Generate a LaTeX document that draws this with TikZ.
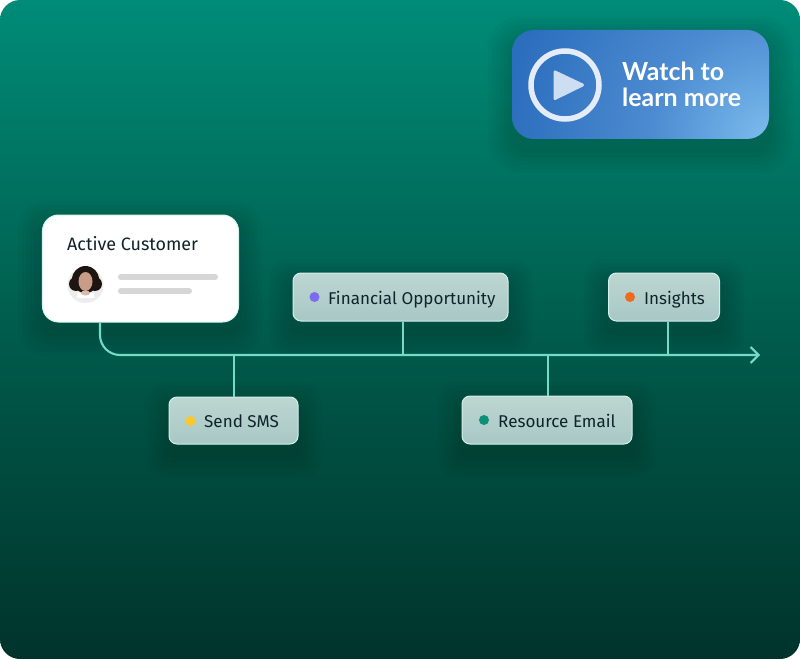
\documentclass[tikz,border=0pt]{standalone}
\usepackage{fontspec}
\setmainfont{Fira Sans}
\newfontfamily\watchfont{Lato}
\usetikzlibrary{arrows.meta}
\definecolor{bgtop}{HTML}{008C78}
\definecolor{bgmid}{HTML}{005C4C}
\definecolor{bgbot}{HTML}{00332B}
\definecolor{flow}{HTML}{74DCC6}
\definecolor{tagtop}{HTML}{BDD6D2}
\definecolor{tagbot}{HTML}{A8C8C5}
\definecolor{tagline}{HTML}{D5EFE9}
\definecolor{ink}{HTML}{10232A}
\definecolor{btnA}{HTML}{7CBCEE}
\definecolor{btnB}{HTML}{4C8BD0}
\definecolor{btnC}{HTML}{2C6EBE}
\definecolor{dotviolet}{HTML}{7C6BF0}
\definecolor{dotorange}{HTML}{EE6A1C}
\definecolor{dotyellow}{HTML}{F8C92A}
\definecolor{dotgreen}{HTML}{0E8F78}
\definecolor{hair}{HTML}{1E1512}
\definecolor{skin}{HTML}{C99C88}
\definecolor{halo}{HTML}{EDEDEE}
\definecolor{playfill}{HTML}{CDDDF2}
\definecolor{ringcol}{HTML}{E3ECF8}
\pgfdeclareverticalshading{bgshade}{100bp}{color(0bp)=(bgbot); color(25bp)=(bgbot); color(50bp)=(bgmid); color(75bp)=(bgtop); color(100bp)=(bgtop)}
\pgfdeclareverticalshading{tagshade}{100bp}{color(0bp)=(tagbot); color(25bp)=(tagbot); color(75bp)=(tagtop); color(100bp)=(tagtop)}
\pgfdeclareradialshading{btnshade}{\pgfpointorigin}{color(0bp)=(btnA); color(9bp)=(btnB); color(20bp)=(btnC); color(50bp)=(btnC)}
\newcommand{\softshadow}[5]{%
  \foreach \g in {24,20,16,12,8,4}{
    \fill[black,opacity=0.025,rounded corners=#5+\g*0.5]
      (#1-\g,#2-\g+10) rectangle (#3+\g,#4+\g+10);}}
\tikzset{
  x=1bp,y=-1bp,
  tagbox/.style={draw=tagline,line width=1bp,rounded corners=8bp,shade,shading=tagshade,inner sep=0pt},
  dotmark/.style={circle,fill=#1,minimum size=10bp,inner sep=0pt},
  flowline/.style={draw=flow,line width=2.1bp},
  tagtext/.style={text=ink,font=\fontsize{17.1}{20}\selectfont,anchor=base west,inner sep=0pt},
  barline/.style={draw=black!16,line width=6bp,line cap=round},
  watchtext/.style={text=white,font=\watchfont\bfseries\fontsize{25}{30}\selectfont,anchor=base west,inner sep=0pt},
}
\begin{document}
\begin{tikzpicture}
\useasboundingbox (0,0) rectangle (800,659);
\fill[white] (0,0) rectangle (800,659);
\path[rounded corners=20bp,shade,shading=bgshade] (0,0) rectangle (800,659);

% button
\softshadow{512}{30}{769}{139}{20}
\begin{scope}
  \clip[rounded corners=22bp] (512,30) rectangle (769,139);
  \shade[shading=btnshade] (769,139) circle[radius=330];
\end{scope}
\node[circle,draw=ringcol,line width=5.5bp,minimum size=68bp,inner sep=0pt] (ring) at (565,85) {};
\fill[playfill,draw=playfill,line width=3bp,line join=round] (555,72) -- (582.5,85) -- (555,98.5) -- cycle;
\node[watchtext] (w1) at (622,81) {Watch to};
\node[watchtext] (w2) at (622,107) {learn more};

% shadows
\softshadow{42}{215}{238}{322}{16}
\softshadow{293}{273}{508}{321}{8}
\softshadow{608}{273}{720}{321}{8}
\softshadow{169}{397}{298}{444}{8}
\softshadow{462}{396}{632}{444}{8}

% connectors' fixed points
\coordinate (elbow) at (100,355);
\coordinate (tip) at (760,355);
\coordinate (j1) at (234,355);
\coordinate (j2) at (403,355);
\coordinate (j3) at (548,355);
\coordinate (j4) at (668,355);

% main nodes
\node[draw=white!70!flow,line width=1bp,fill=white,rounded corners=16bp,minimum width=196bp,minimum height=107bp,inner sep=0pt] (card) at (140.5,268.5) {};
\node[tagbox,minimum width=215bp,minimum height=48bp] (fin) at (400.5,297) {};
\node[tagbox,minimum width=111bp,minimum height=48bp] (ins) at (664,297) {};
\node[tagbox,minimum width=129bp,minimum height=47bp] (sms) at (233.5,420.5) {};
\node[tagbox,minimum width=170bp,minimum height=48bp] (res) at (547,420) {};

% connectors
\draw[flowline,-{Straight Barb[length=8bp,width=16bp,line width=2.1bp]},rounded corners=20bp] (card.south -| elbow) -- (elbow) -- (tip);
\draw[flowline] (j1) -- (sms.north -| j1);
\draw[flowline] (j2) -- (fin.south -| j2);
\draw[flowline] (j3) -- (res.north -| j3);
\draw[flowline] (j4) -- (ins.south -| j4);

% tag contents
\node[dotmark=dotviolet] (d1) at (314.5,297) {};
\node[tagtext] (t1) at (328,304) {Financial Opportunity};
\node[dotmark=dotorange] (d2) at (630,297) {};
\node[tagtext] (t2) at (644,304) {Insights};
\node[dotmark=dotyellow] (d3) at (190.5,421) {};
\node[tagtext] (t3) at (204,427) {Send SMS};
\node[dotmark=dotgreen] (d4) at (484,420) {};
\node[tagtext] (t4) at (498,427) {Resource Email};

% card contents
\node[tagtext,font=\fontsize{18}{20}\selectfont] (title) at (67,250) {Active Customer};
\fill[halo] (85.5,285) circle[radius=18];
\fill[hair] (85.5,279.5) circle[radius=13.5];
\fill[hair] (76,284) circle[radius=7];
\fill[hair] (95,284) circle[radius=7];
\fill[white] (77,293) rectangle (94,298);
\fill[skin] (85.5,281.5) ellipse[x radius=7,y radius=9.5];
\fill[skin!70!white] (85.5,293) ellipse[x radius=4.5,y radius=2.5];
\draw[barline] (121,277) -- (215,277);
\draw[barline] (121,291) -- (189,291);
\end{tikzpicture}
\end{document}
